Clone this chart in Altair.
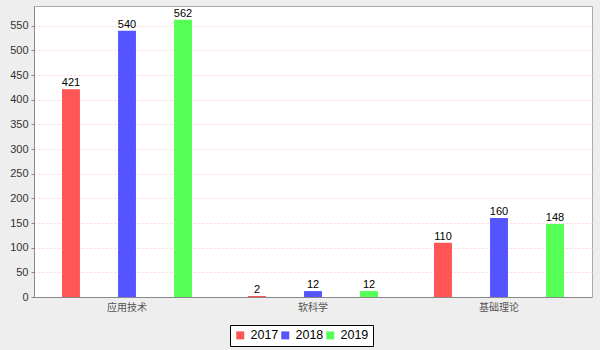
import altair as alt
import pandas as pd

categories = ["应用技术", "软科学", "基础理论"]
years = ["2017", "2018", "2019"]
values_2017 = [421, 2, 110]
values_2018 = [540, 12, 160]
values_2019 = [562, 12, 148]
colors = ["#FF5555", "#5555FF", "#55FF55"]
y_ticks = list(range(0, 551, 50))

rows = []
for ci, c in enumerate(categories):
    for y, vals in zip(years, [values_2017, values_2018, values_2019]):
        rows.append({"category": c, "year": y, "value": vals[ci]})
df = pd.DataFrame(rows)

x = alt.X("category:N", sort=categories, title=None,
          scale=alt.Scale(paddingInner=0, paddingOuter=0),
          axis=alt.Axis(labelAngle=0, ticks=False, labelFont="Noto Sans CJK SC",
                        labelFontSize=10, labelColor="#555555", labelPadding=5,
                        domainColor="#888888", grid=False))
xo = alt.XOffset("year:N", sort=years,
                 scale=alt.Scale(paddingInner=0.68, paddingOuter=0.5))
y = alt.Y("value:Q", title=None,
          scale=alt.Scale(domain=[0, 590], nice=False),
          axis=alt.Axis(values=y_ticks, labelOverlap=False, labelFont="Liberation Sans",
                        labelFontSize=11, labelColor="#333333", tickSize=3,
                        tickColor="#888888", domainColor="#888888",
                        gridColor="#F8D4DB", gridDash=[2, 2], gridWidth=1,
                        labelPadding=3))

color = alt.Color("year:N", sort=years,
                  scale=alt.Scale(domain=years, range=colors),
                  legend=alt.Legend(title=None, orient="none", direction="horizontal",
                                    legendX=196, legendY=319, symbolType="square",
                                    symbolSize=64, symbolStrokeWidth=0,
                                    labelFont="Liberation Sans", labelFontSize=12.5,
                                    labelColor="#000000", strokeColor="#000000",
                                    padding=4, columnPadding=0, labelOffset=4,
                                    fillColor="#FFFFFF"))

bars = alt.Chart(df).mark_bar(opacity=1).encode(x=x, xOffset=xo, y=y, color=color)
labels = alt.Chart(df).mark_text(baseline="bottom", dy=-1, font="Liberation Sans",
                                 fontSize=11, color="#000000").encode(
    x=x, xOffset=xo, y=y, text="value:Q")

chart = (bars + labels).properties(
    width=558, height=291,
    background="#EEEEEE",
    padding={"left": 34, "top": 6, "right": 8, "bottom": 53},
    autosize=alt.AutoSizeParams(type="none"),
).configure_view(stroke="#AAAAAA", fill="#FFFFFF", strokeWidth=1)

chart.save("out.html", embed_options={"renderer": "svg", "actions": False})
